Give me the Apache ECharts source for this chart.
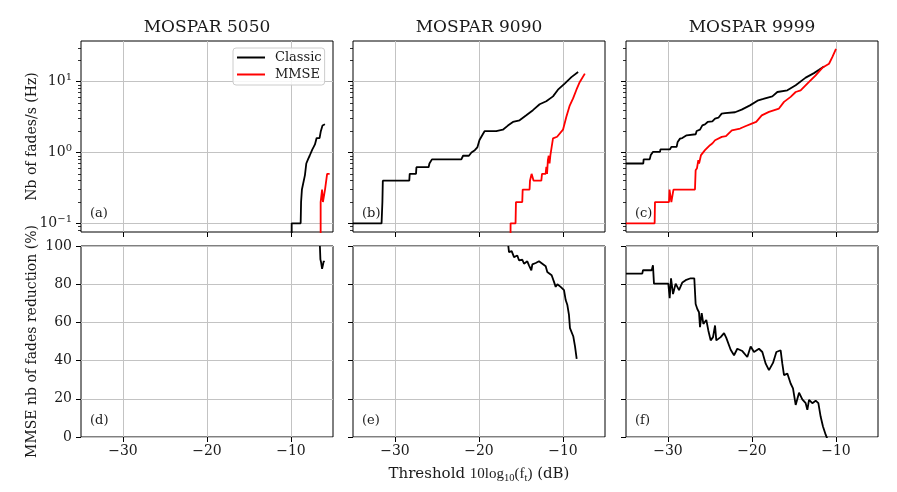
<!DOCTYPE html>
<html><head><meta charset="utf-8">
<script src="https://cdn.jsdelivr.net/npm/echarts@6/dist/echarts.min.js"></script>
<style>html,body{margin:0;padding:0;background:#fff}#c{width:897px;height:492px}</style>
</head><body><div id="c"></div>
<script>
// ---------- data ----------
const panelTitles = ['MOSPAR 5050', 'MOSPAR 9090', 'MOSPAR 9999'];
const panelLetters = ['(a)', '(b)', '(c)', '(d)', '(e)', '(f)'];
const seriesNames = ['Classic', 'MMSE'];
const xTicks = [-30, -20, -10];
const logTicks = [0.1, 1, 10];
const logMinorTicks = [0.08, 0.09, 0.2, 0.3, 0.4, 0.5, 0.6, 0.7, 0.8, 0.9, 2, 3, 4, 5, 6, 7, 8, 9, 20, 30];
const pctTicks = [0, 20, 40, 60, 80, 100];

// top row: number of fades per second (Hz); 0.001 stands for "no fades" (below the log axis)
const classic5050 = [[-9.92,0.001],[-9.92,0.1],[-8.85,0.1],[-8.8,0.2],[-8.7,0.3],[-8.5,0.3],[-8.34,0.48],[-8.18,0.7],[-7.94,0.82],[-7.78,0.9],[-7.47,1.1],[-7.3,1.2],[-7.15,1.3],[-6.95,1.6],[-6.6,1.6],[-6.45,2.0],[-6.25,2.4],[-6.2,2.5],[-5.96,2.5]];
const mmse5050 = [[-6.47,0.001],[-6.47,0.2],[-6.35,0.2],[-6.3,0.3],[-6.25,0.3],[-6.2,0.2],[-6.0,0.2],[-5.95,0.3],[-5.75,0.3],[-5.7,0.5],[-5.4,0.5]];
const classic9090 = [[-35,0.1],[-31.6,0.1],[-31.5,0.2],[-31.45,0.4],[-28.3,0.4],[-28.25,0.5],[-27.5,0.5],[-27.45,0.62],[-26.0,0.62],[-25.9,0.7],[-25.6,0.8],[-22.1,0.8],[-21.9,0.9],[-21.2,0.9],[-20.9,1.0],[-20.5,1.08],[-20.2,1.18],[-19.94,1.5],[-19.6,1.77],[-19.34,2.0],[-17.95,2.0],[-17.16,2.1],[-16.56,2.4],[-15.96,2.7],[-15.17,2.85],[-14.37,3.36],[-13.58,3.96],[-12.78,4.8],[-11.99,5.3],[-11.19,6.2],[-10.6,7.7],[-9.8,9.4],[-9.0,11.6],[-8.2,13.7]];
const mmse9090 = [[-16.3,0.001],[-16.24,0.1],[-15.65,0.1],[-15.6,0.2],[-14.85,0.2],[-14.8,0.3],[-13.98,0.3],[-13.93,0.4],[-13.8,0.4],[-13.74,0.5],[-13.6,0.5],[-13.5,0.4],[-12.58,0.4],[-12.5,0.5],[-12.07,0.5],[-11.98,0.63],[-11.9,0.5],[-11.8,0.78],[-11.7,0.9],[-11.6,0.7],[-11.5,0.92],[-11.3,0.9],[-11.19,1.58],[-10.7,1.67],[-10.0,2.1],[-9.6,3.2],[-9.2,4.6],[-8.8,5.8],[-8.4,7.7],[-8.0,9.9],[-7.4,13]];
const classic9999 = [[-35,0.7],[-32.94,0.7],[-32.9,0.8],[-32.18,0.8],[-32.05,0.92],[-31.8,1.02],[-30.95,1.02],[-30.9,1.11],[-29.76,1.11],[-29.6,1.2],[-28.97,1.2],[-28.85,1.41],[-28.57,1.57],[-28.3,1.6],[-27.78,1.75],[-26.7,1.81],[-26.59,2.01],[-26.19,2.1],[-25.91,2.42],[-25.6,2.5],[-25.28,2.7],[-24.72,2.75],[-24.4,3.0],[-24.0,3.1],[-23.61,3.54],[-23.2,3.6],[-22.02,3.7],[-21.23,4.03],[-20.24,4.63],[-19.25,5.45],[-18.65,5.7],[-17.58,6.2],[-16.98,7.15],[-15.79,7.55],[-14.8,8.9],[-13.61,11.4],[-12.62,13.2],[-12.02,14.7],[-11.43,16.4]];
const mmse9999 = [[-35,0.1],[-31.59,0.1],[-31.55,0.2],[-29.88,0.2],[-29.82,0.3],[-29.66,0.3],[-29.6,0.2],[-29.45,0.2],[-29.35,0.3],[-26.79,0.3],[-26.71,0.56],[-26.55,0.6],[-26.39,0.78],[-26.3,0.7],[-26.07,0.92],[-25.6,1.08],[-25.4,1.05],[-25.0,1.27],[-24.7,1.35],[-24.4,1.49],[-24.2,1.42],[-23.6,1.66],[-23.1,1.7],[-22.4,2.06],[-21.42,2.18],[-20.8,2.35],[-20.03,2.56],[-19.5,2.7],[-18.84,3.35],[-17.98,3.74],[-16.79,4.17],[-16.19,5.18],[-15.4,6.1],[-14.8,7.15],[-14.21,7.55],[-13.21,9.9],[-12.42,12.3],[-11.63,15.7],[-10.83,17.9],[-10.44,22.2],[-10.0,29]];

// bottom row: MMSE reduction of the number of fades (%)
const reduction5050 = [[-6.56,100],[-6.5,93],[-6.42,91.5],[-6.3,88],[-6.2,90],[-6.1,92.2],[-6.05,91.5]];
const reduction9090 = [[-16.51,100],[-16.43,96.8],[-16.11,97.3],[-15.83,94.2],[-15.44,95],[-15.24,92.5],[-14.84,92.8],[-14.64,90.7],[-14.25,92],[-14.05,89.9],[-13.77,87.3],[-13.65,90.4],[-13.25,91.1],[-12.86,92],[-12.46,90.7],[-12.06,89.4],[-11.87,86.4],[-11.67,86.9],[-11.35,84.7],[-11.07,81.2],[-10.87,78.6],[-10.67,80],[-10.28,78.6],[-9.88,76.9],[-9.68,71.7],[-9.48,69.1],[-9.29,63.9],[-9.17,57],[-8.97,57.5],[-8.77,52.6],[-8.57,47.4],[-8.37,40.9]];
const reduction9999 = [[-35,85.5],[-33.06,85.5],[-32.98,87.3],[-31.94,87.3],[-31.79,89.9],[-31.67,80.3],[-29.96,80.3],[-29.8,72.7],[-29.64,83.1],[-29.4,74.8],[-29.09,80.3],[-28.69,76.9],[-28.29,80.9],[-27.9,82.1],[-27.3,83.1],[-26.87,83.1],[-26.71,69.6],[-26.51,67],[-26.31,65.3],[-26.19,57.5],[-25.99,64.8],[-25.79,59.2],[-25.44,61.3],[-25.2,55.8],[-24.92,50.6],[-24.64,52.3],[-24.4,58.4],[-24.25,50.6],[-23.73,52.3],[-23.33,54.4],[-23.06,51.9],[-22.54,45.7],[-22.14,42.8],[-21.75,46.2],[-21.15,45],[-20.56,41.9],[-20.16,47.4],[-19.76,44.5],[-19.17,46.2],[-18.77,44.5],[-18.37,38.4],[-17.98,35],[-17.5,38.8],[-17.1,44.5],[-16.59,45.4],[-16.39,38.4],[-16.19,32.4],[-15.79,33.2],[-15.4,28],[-15.12,25.5],[-14.8,16.8],[-14.4,23.2],[-14.01,19.7],[-13.61,17.7],[-13.41,14.2],[-13.21,19.4],[-12.82,17.7],[-12.42,19],[-12.1,17.7],[-11.83,10.7],[-11.55,5.5],[-11.23,1.2],[-11.03,-1]];

const topClassic = [classic5050, classic9090, classic9999];
const topMmse = [mmse5050, mmse9090, mmse9999];
const bottomReduction = [reduction5050, reduction9090, reduction9999];

// ---------- layout / style ----------
const FONT = 'DejaVu Serif';
const TXT = '#1a1a1a';
const GRIDC = '#c3c3c3';
const colLeft = [81, 353, 626];
const colW = 252;
const rowTop = [41, 246];
const rowH = 191;
const X_MIN = -35, X_MAX = -5;
const LOG_MIN = 0.0755, LOG_MAX = 37.5;

const minus = v => (v < 0 ? '\u2212' : '') + Math.abs(v);

const grids = [], xAxes = [], yAxes = [], series = [];
for (let r = 0; r < 2; r++) {
  for (let c = 0; c < 3; c++) {
    const gi = r * 3 + c;
    grids.push({left: colLeft[c], top: rowTop[r], width: colW, height: rowH,
      show: true, borderColor: '#000', borderWidth: 1, backgroundColor: 'transparent',
      containLabel: false, outerBoundsMode: 'none'});
    xAxes.push({type: 'value', gridIndex: gi, min: X_MIN, max: X_MAX,
      axisLine: {show: false},
      axisTick: {show: true, customValues: xTicks, length: 5, lineStyle: {color: '#000', width: 1}},
      axisLabel: {show: r === 1, customValues: xTicks, formatter: minus, margin: 7,
        fontFamily: FONT, fontSize: 14, color: TXT},
      splitLine: {show: true, lineStyle: {color: GRIDC, width: 1}}});
  }
}
// y axes
const yIndexMain = [];
for (let c = 0; c < 3; c++) {
  yIndexMain.push(yAxes.length);
  yAxes.push({type: 'log', gridIndex: c, position: 'left', min: LOG_MIN, max: LOG_MAX,
    axisLine: {show: false},
    axisTick: {show: true, customValues: logTicks, length: 5, lineStyle: {color: '#000', width: 1}},
    axisLabel: {show: c === 0, customValues: logTicks, margin: 9,
      formatter: v => '{b|10}{s|' + minus(Math.round(Math.log10(v))) + '}',
      rich: {b: {fontFamily: FONT, fontSize: 14, color: TXT},
             s: {fontFamily: FONT, fontSize: 10, color: TXT, padding: [0, 0, 8, 0]}}},
    splitLine: {show: true, lineStyle: {color: GRIDC, width: 1}}});
  yAxes.push({type: 'log', gridIndex: c, position: 'left', min: LOG_MIN, max: LOG_MAX,
    axisLine: {show: false},
    axisTick: {show: true, customValues: logMinorTicks, length: 3, lineStyle: {color: '#000', width: 0.8}},
    axisLabel: {show: false}, splitLine: {show: false}});
}
for (let c = 0; c < 3; c++) {
  yIndexMain.push(yAxes.length);
  yAxes.push({type: 'value', gridIndex: 3 + c, position: 'left', min: 0, max: 100, interval: 20,
    axisLine: {show: false},
    axisTick: {show: true, length: 5, lineStyle: {color: '#000', width: 1}},
    axisLabel: {show: c === 0, margin: 9, fontFamily: FONT, fontSize: 14, color: TXT},
    splitLine: {show: true, lineStyle: {color: GRIDC, width: 1}}});
}
const lineBase = {type: 'line', symbol: 'none', showSymbol: false, clip: true, animation: false,
  silent: true, z: 3};
for (let c = 0; c < 3; c++) {
  series.push(Object.assign({}, lineBase, {name: seriesNames[0], xAxisIndex: c, yAxisIndex: yIndexMain[c],
    data: topClassic[c], itemStyle: {color: '#000'}, lineStyle: {color: '#000', width: 1.8}}));
  series.push(Object.assign({}, lineBase, {name: seriesNames[1], xAxisIndex: c, yAxisIndex: yIndexMain[c],
    data: topMmse[c], itemStyle: {color: '#ff0000'}, lineStyle: {color: '#ff0000', width: 1.8}}));
  series.push(Object.assign({}, lineBase, {name: 'reduction' + c, xAxisIndex: 3 + c, yAxisIndex: yIndexMain[3 + c],
    data: bottomReduction[c], itemStyle: {color: '#000'}, lineStyle: {color: '#000', width: 1.8}}));
}

const graphics = [];
for (let c = 0; c < 3; c++) {
  graphics.push({type: 'text', x: colLeft[c] + colW / 2, y: 28, silent: true,
    style: {text: panelTitles[c], fill: TXT, fontFamily: FONT, fontSize: 17, textAlign: 'center', textVerticalAlign: 'middle'}});
}
for (let i = 0; i < 6; i++) {
  const c = i % 3, r = Math.floor(i / 3);
  graphics.push({type: 'text', x: colLeft[c] + 9, y: r === 0 ? 213.5 : 420.5, silent: true, z: 10,
    style: {text: panelLetters[i], fill: TXT, fontFamily: FONT, fontSize: 13, textAlign: 'left', textVerticalAlign: 'middle'}});
}
graphics.push({type: 'text', x: 32, y: rowTop[0] + rowH / 2, rotation: Math.PI / 2, silent: true,
  style: {text: 'Nb of fades/s (Hz)', fill: TXT, fontFamily: FONT, fontSize: 14, textAlign: 'center', textVerticalAlign: 'middle'}});
graphics.push({type: 'text', x: 32, y: rowTop[1] + rowH / 2, rotation: Math.PI / 2, silent: true,
  style: {text: 'MMSE nb of fades reduction (%)', fill: TXT, fontFamily: FONT, fontSize: 14, textAlign: 'center', textVerticalAlign: 'middle'}});
graphics.push({type: 'text', x: colLeft[1] + colW / 2, y: 474, silent: true,
  style: {text: 'Threshold {m|10log}{sub|10}{m|(f}{sub|t}{m|)} (dB)', fill: TXT, fontFamily: FONT, fontSize: 15,
    textAlign: 'center', textVerticalAlign: 'middle',
    rich: {m: {fontFamily: 'Liberation Serif', fontSize: 15, fill: TXT, color: TXT},
           sub: {fontFamily: 'Liberation Serif', fontSize: 10.5, fill: TXT, color: TXT, padding: [8, 0, 0, 0]}}}});

const chart = echarts.init(document.getElementById('c'), null, {renderer: 'canvas'});
chart.setOption({
  animation: false,
  backgroundColor: '#fff',
  grid: grids, xAxis: xAxes, yAxis: yAxes, series: series,
  legend: {show: true, data: seriesNames, orient: 'vertical', left: 233, top: 48,
    itemWidth: 28, itemHeight: 2, icon: 'rect', itemGap: 4,
    textStyle: {fontFamily: FONT, fontSize: 13, color: TXT, padding: [0, 0, 0, 5]},
    backgroundColor: 'rgba(255,255,255,0.85)', borderColor: '#cccccc', borderWidth: 1, borderRadius: 3,
    padding: [3, 3, 4, 4], selectedMode: false, z: 20},
  graphic: graphics
});
</script></body></html>
